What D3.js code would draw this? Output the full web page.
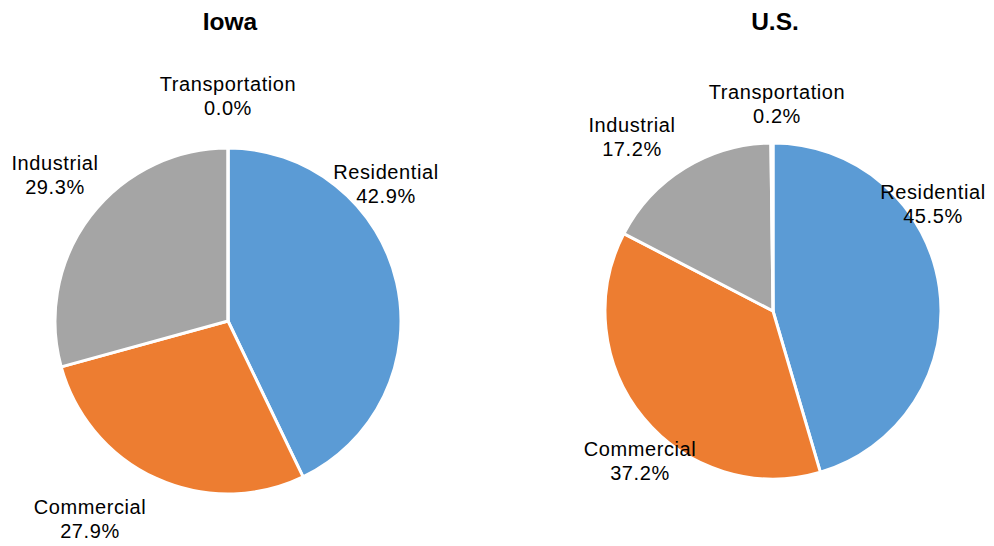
<!DOCTYPE html>
<html>
<head>
<meta charset="utf-8">
<script src="https://cdn.jsdelivr.net/npm/d3@7"></script>
<style>
  body { margin: 0; background: #fff; }
  text { font-family: "Liberation Sans", Arial, Helvetica, sans-serif; fill: #000; }
</style>
</head>
<body>
<div class="chart"></div>
<script>
// data
var categories = ["Residential", "Commercial", "Industrial", "Transportation"];
var iowaValues = [42.9, 27.9, 29.3, 0.0];
var usValues = [45.5, 37.2, 17.2, 0.2];
var titles = ["Iowa", "U.S."];

var colors = ["#5b9bd5", "#ed7d31", "#a5a5a5", "#ffc000"];

var svgWidth = 994;
var svgHeight = 546;

var svg = d3.select(".chart")
  .append("svg")
  .attr("width", svgWidth)
  .attr("height", svgHeight);

// layout for each pie: center, radius, label offsets (dx, dy from center)
var pies = [
  { title: titles[0], values: iowaValues, cx: 228, cy: 321, r: 173,
    labels: [[158, -137], [-138, 198], [-173, -146], [0, -225]] },
  { title: titles[1], values: usValues, cx: 773, cy: 311, r: 168,
    labels: [[160, -107], [-133, 150], [-141, -174], [4, -207]] }
];

var pie = d3.pie().sort(null).value(d => d);

pies.forEach(function(p) {
  var g = svg.append("g")
    .attr("transform", `translate(${p.cx}, ${p.cy})`);

  var arc = d3.arc().innerRadius(0).outerRadius(p.r);

  g.selectAll("path")
    .data(pie(p.values))
    .enter()
    .append("path")
    .attr("d", arc)
    .attr("fill", (d, i) => colors[i])
    .attr("stroke", "#fff")
    .attr("stroke-width", 3)
    .attr("stroke-linejoin", "round");

  // title
  svg.append("text")
    .attr("x", p.cx + 2)
    .attr("y", 30)
    .attr("text-anchor", "middle")
    .style("font-size", "24.5px")
    .style("font-weight", "bold")
    .text(p.title);

  // labels
  var lab = g.selectAll(".lab")
    .data(p.values)
    .enter()
    .append("text")
    .attr("class", "lab")
    .attr("text-anchor", "middle")
    .style("font-size", "20px")
    .style("letter-spacing", "0.6px")
    .attr("transform", (d, i) => `translate(${p.labels[i][0]}, ${p.labels[i][1]})`);

  lab.append("tspan")
    .attr("x", 0)
    .attr("y", -5)
    .text((d, i) => categories[i]);

  lab.append("tspan")
    .attr("x", 0)
    .attr("y", 19)
    .text(d => d3.format(".1f")(d) + "%");
});
</script>
</body>
</html>
